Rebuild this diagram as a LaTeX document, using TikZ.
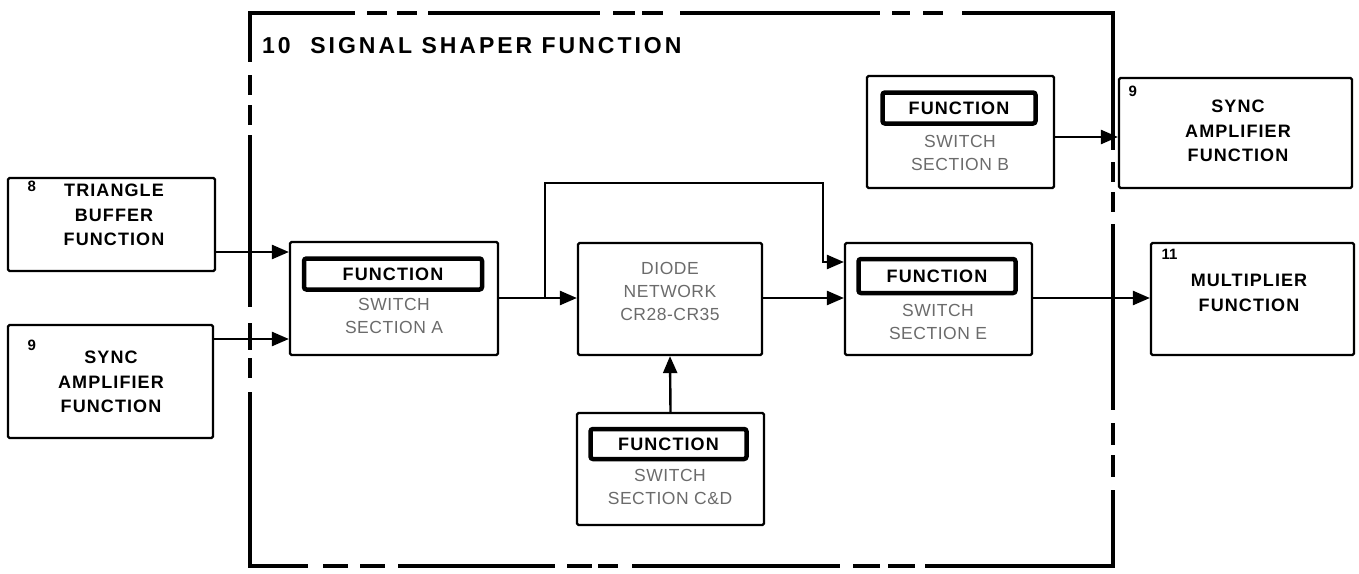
\documentclass[tikz,border=0pt]{standalone}
\usepackage{fontspec}
\setmainfont{Liberation Sans}
\newfontfamily\boldwide[LetterSpace=6]{Liberation Sans}
\newfontfamily\titlewide[LetterSpace=13]{Liberation Sans}
\newfontfamily\lightwide[LetterSpace=3]{Liberation Sans}
\usetikzlibrary{arrows.meta}
\begin{document}
\begin{tikzpicture}[x=1pt,y=-1pt,
  box/.style={draw, line width=2.2pt, rounded corners=1.5pt, inner sep=0pt},
  fbox/.style={draw, line width=4.5pt, rounded corners=2.5pt, inner sep=0pt, font=\boldwide\fontsize{18}{20}\selectfont\bfseries},
  btxt/.style={align=center, font=\boldwide\fontsize{18}{24.5}\selectfont\bfseries},
  ltxt/.style={align=center, text=black!58, font=\lightwide\fontsize{17.5}{23}\selectfont},
  num/.style={anchor=west, font=\fontsize{15}{17}\selectfont\bfseries},
  conn/.style={line width=2.4pt, -{Triangle[length=17pt,width=14pt]}},
  frame/.style={line width=4.5pt}]
\useasboundingbox (0,0) rectangle (1359,573);
% dashed frame drawn as explicit segments
\foreach \a/\b in {13/62,75/95,105/125,135/307,323/350,358/378,392/566}
  \draw[frame] (250,\a) -- (250,\b);
\foreach \a/\b in {250/355,367/387,397/417,428/600,613/635,642/663,680/880,892/910,923/943,962/1113}
  \draw[frame] (\a,13) -- (\b,13);
\foreach \a/\b in {13/150,162/182,192/212,224/410,423/445,455/477,490/566}
  \draw[frame] (1113,\a) -- (1113,\b);
\foreach \a/\b in {250/308,323/348,360/385,398/555,567/592,598/618,632/840,853/880,888/915,925/1113}
  \draw[frame] (\a,566) -- (\b,566);
\draw[frame,line cap=rect] (250,13) -- (250,14) (1113,13) -- (1113,14) (250,566) -- (250,565) (1113,566)--(1113,565);
\node[anchor=west, inner sep=0pt, font=\titlewide\fontsize{23}{25}\selectfont\bfseries] (title) at (262,46) {10\hspace{0.85em}SIGNAL SHAPER FUNCTION};

% external boxes
\node[box, minimum width=207pt, minimum height=93pt] (tri) at (111.5,224.5) {};
\node[btxt] (trit) at (114,215) {TRIANGLE\\BUFFER\\FUNCTION};
\node[num] (trin) at (24,186) {8};

\node[box, minimum width=205pt, minimum height=113pt] (syl) at (110.5,381.5) {};
\node[btxt] (sylt) at (111,382) {SYNC\\AMPLIFIER\\FUNCTION};
\node[num] (syln) at (24,345) {9};

\node[box, minimum width=233pt, minimum height=110pt] (syr) at (1235.5,133) {};
\node[btxt] (syrt) at (1238,131) {SYNC\\AMPLIFIER\\FUNCTION};
\node[num] (syrn) at (1125,91) {9};

\node[box, minimum width=203pt, minimum height=112pt] (mul) at (1252.5,299) {};
\node[btxt] (mult) at (1249,293) {MULTIPLIER\\FUNCTION};
\node[num] (muln) at (1158,254) {11};

% switch A
\node[box, minimum width=208pt, minimum height=113pt] (swa) at (394,298.5) {};
\node[fbox, minimum width=178pt, minimum height=31pt] (swaf) at (393,274) {FUNCTION};
\node[ltxt] (swat) at (394,316) {SWITCH\\SECTION A};

% diode
\node[box, minimum width=184pt, minimum height=112pt] (dio) at (670,299) {};
\node[ltxt] (diot) at (670,291) {DIODE\\NETWORK\\CR28-CR35};

% switch E
\node[box, minimum width=187pt, minimum height=112pt] (swe) at (938.5,299) {};
\node[fbox, minimum width=157pt, minimum height=34pt] (swef) at (937,276) {FUNCTION};
\node[ltxt] (swet) at (938,322) {SWITCH\\SECTION E};

% switch B
\node[box, minimum width=187pt, minimum height=112pt] (swb) at (960.5,132) {};
\node[fbox, minimum width=153pt, minimum height=31pt] (swbf) at (959,108) {FUNCTION};
\node[ltxt] (swbt) at (960,153) {SWITCH\\SECTION B};

% switch C&D
\node[box, minimum width=187pt, minimum height=112pt] (scd) at (670.5,469) {};
\node[fbox, minimum width=156pt, minimum height=30pt] (scdf) at (668.5,444) {FUNCTION};
\node[ltxt] (scdt) at (670,487) {SWITCH\\SECTION C\&D};

% connectors
\draw[conn] (tri.east |- 0,252) -- (swa.west |- 0,252);
\draw[conn] (syl.east |- 0,339) -- (swa.west |- 0,339);
\draw[conn] (swa.east |- 0,298) -- (dio.west |- 0,298);
\coordinate (br) at (545,298);
\draw[conn] (br) -- (545,183) -- (823,183) -- (823,262) -- (swe.west |- 0,262);
\draw[conn] (dio.east |- 0,298) -- (swe.west |- 0,298);
\draw[conn] (swe.east |- 0,298) -- (mul.west |- 0,298);
\draw[conn] (scd.north) -- (dio.south);
\draw[conn] (swb.east |- 0,137) -- (syr.west |- 0,137);
\end{tikzpicture}
\end{document}
